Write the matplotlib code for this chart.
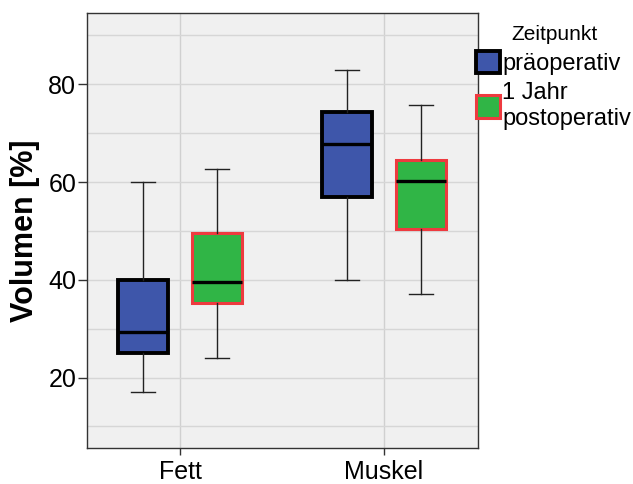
import matplotlib.pyplot as plt
from matplotlib.patches import Patch

plt.rcParams['font.family'] = ['Liberation Sans', 'DejaVu Sans']

# Box statistics per tissue and time point (whisker low, q1, median, q3, whisker high)
categories = ['Fett', 'Muskel']
series = ['präoperativ', '1 Jahr\npostoperativ']
pre_stats = [
    [17.0, 25.1, 29.4, 40.0, 60.0],
    [40.0, 56.9, 67.8, 74.4, 82.9],
]
post_stats = [
    [24.1, 35.3, 39.6, 49.5, 62.7],
    [37.1, 50.4, 60.3, 64.6, 75.8],
]
y_ticks = [20, 40, 60, 80]

fill_colors = ['#3E56AA', '#30B546']
edge_colors = ['#000000', '#EE3A3F']
edge_widths = [2.8, 2.2]
offset = 0.18
box_width = 0.245

fig = plt.figure(figsize=(6.33, 4.84), dpi=100)
ax = fig.add_axes([0.137, 0.0744, 0.618, 0.899])
ax.set_facecolor('#F0F0F0')

for s, stats_list in enumerate([pre_stats, post_stats]):
    bstats = []
    for vals in stats_list:
        lo, q1, med, q3, hi = vals
        bstats.append({'whislo': lo, 'q1': q1, 'med': med, 'q3': q3, 'whishi': hi, 'fliers': []})
    positions = [i + (offset if s else -offset) for i in range(len(categories))]
    ax.bxp(bstats, positions=positions, widths=box_width, patch_artist=True,
           showfliers=False, manage_ticks=False,
           boxprops=dict(facecolor=fill_colors[s], edgecolor=edge_colors[s], linewidth=edge_widths[s]),
           medianprops=dict(color='black', linewidth=2.4, solid_capstyle='butt'),
           whiskerprops=dict(color='#222222', linewidth=1.0),
           capprops=dict(color='#222222', linewidth=1.0),
           capwidths=box_width * 0.48, zorder=3)

ax.set_xlim(-0.457, 1.46)
ax.set_ylim(5.6, 94.6)
ax.set_xticks(range(len(categories)))
ax.set_xticklabels(categories, fontsize=18)
ax.set_yticks(y_ticks)
ax.set_yticklabels([str(t) for t in y_ticks], fontsize=18)
ax.set_yticks(range(10, 95, 10), minor=True)
ax.tick_params(axis='y', which='minor', length=0)
ax.tick_params(axis='y', which='major', length=6.5, width=1, color='#333333',
               direction='out', pad=1)
ax.tick_params(axis='x', which='major', length=5, width=1, color='#333333',
               direction='out', pad=4)
ax.grid(True, which='both', axis='y', color='#D6D6D6', linewidth=1, zorder=0)
ax.grid(True, which='major', axis='x', color='#D0D0D0', linewidth=1, zorder=0)
ax.set_axisbelow(True)
for sp in ax.spines.values():
    sp.set_color('#333333')
    sp.set_linewidth(1)

ax.set_ylabel('Volumen [%]', fontsize=22, fontweight='bold', labelpad=6)

handles = [Patch(facecolor=fill_colors[i], edgecolor=edge_colors[i], linewidth=edge_widths[i])
           for i in range(len(series))]
leg = fig.legend(handles, series, loc='upper left', bbox_to_anchor=(0.752, 0.895),
                 frameon=False, fontsize=17, handlelength=1.0, handleheight=1.1,
                 handletextpad=0.12, labelspacing=0.3, borderpad=0, borderaxespad=0)
fig.text(0.876, 0.928, 'Zeitpunkt', fontsize=15, ha='center', va='center')

fig.savefig('out.png', dpi=100)
